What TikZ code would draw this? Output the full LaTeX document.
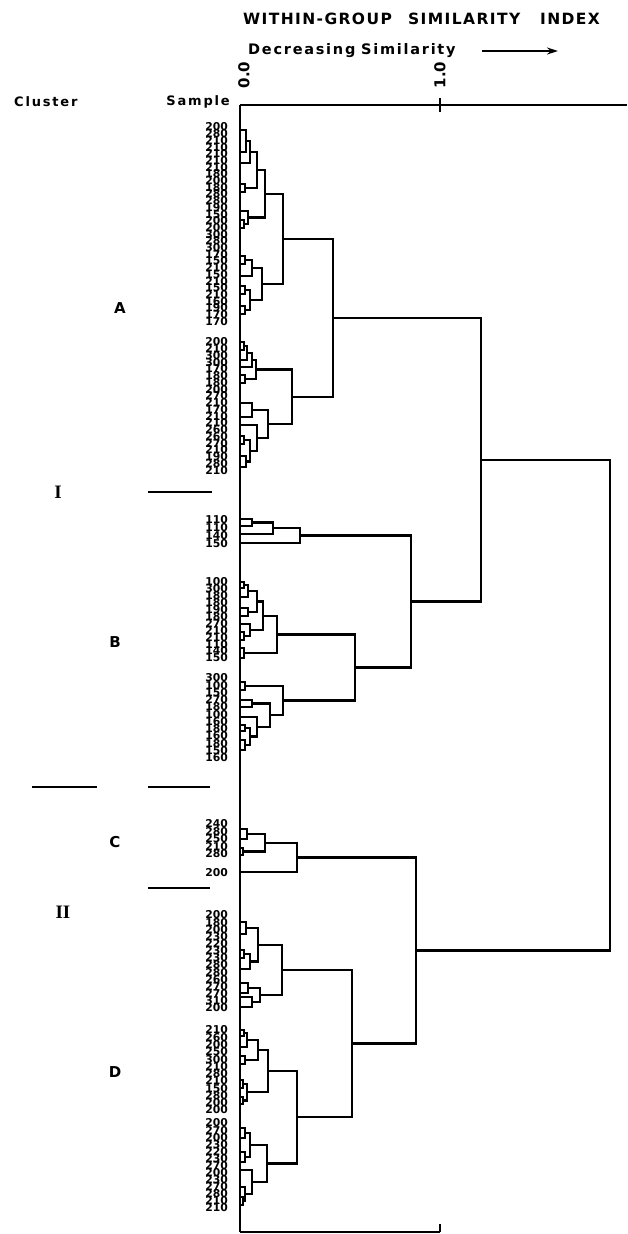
\documentclass[tikz,border=0pt]{standalone}
\usepackage{fontspec}
\setmainfont{DejaVu Sans}
\newfontfamily\serf{Liberation Serif}
\newfontfamily\hdf{DejaVu Sans}[LetterSpace=9]
\newfontfamily\decf{DejaVu Sans}[LetterSpace=12]
\newfontfamily\clf{DejaVu Sans}[LetterSpace=14]
\usetikzlibrary{arrows.meta}
\newcommand\br[5]{\draw[dl] (#4,#2) -- (#1,#2) -- (#1,#3) -- (#5,#3);}
\newcommand\lbls[3]{\foreach \t [count=\i] in {#3} \node[lab] at (228,{#1+(\i-1)*#2}) {\t};}
\begin{document}
\begin{tikzpicture}[x=1pt,y=-1pt]
\tikzset{
 dl/.style={line width=2.3pt, line join=miter},
 ax/.style={line width=2.4pt},
 lab/.style={anchor=east, inner sep=0pt, font=\bfseries\fontsize{10.8}{10.8}\selectfont},
 hd/.style={inner sep=0pt, font=\hdf\bfseries\fontsize{15.5}{15.5}\selectfont},
 dc/.style={inner sep=0pt, font=\decf\bfseries\fontsize{14.5}{14.5}\selectfont},
 nm/.style={inner sep=0pt, font=\bfseries\fontsize{15}{15}\selectfont},
 cl/.style={inner sep=0pt, font=\clf\bfseries\fontsize{13}{13}\selectfont},
 lt/.style={inner sep=0pt, font=\bfseries\fontsize{15}{15}\selectfont},
 rn/.style={inner sep=0pt, font=\serf\bfseries\fontsize{19}{19}\selectfont},
 sep/.style={line width=1.8pt}
}
\useasboundingbox (0,0) rectangle (627,1234);
% header
\node[hd, anchor=west] (t1) at (243,19) {WITHIN-GROUP};
\node[hd, anchor=west] (t2) at (408,19) {SIMILARITY};
\node[hd, anchor=west] (t3) at (540,19) {INDEX};
\node[dc, anchor=west] (dec) at (248,51) {Decreasing\hspace{0.4em}Similarity};
\coordinate (aS) at (482,51);
\coordinate (aE) at (558,51);
\draw[line width=1.5pt, -{Stealth[length=11pt,width=7pt]}] (aS) -- (aE);
\node[nm, rotate=90] (z0) at (244,75) {0.0};
\node[nm, rotate=90] (z1) at (440,75) {1.0};
\node[cl, anchor=west] (cluster) at (14,102) {Cluster};
\node[cl, anchor=east] (sample) at (230,102) {Sample};
% axes
\draw[ax] (240,105) -- (627,105);
\draw[ax] (440,98) -- (440,112);
\draw[ax] (240,105) -- (240,1232);
\draw[ax] (240,1232) -- (440,1232);
\draw[ax] (440,1224) -- (440,1232);
% cluster labels and separators
\node[lt] (A) at (120,308) {A};
\node[lt] (B) at (115,642) {B};
\node[lt] (C) at (115,842) {C};
\node[lt] (D) at (115,1072) {D};
\node[rn] (I) at (58,492) {I};
\node[rn] (II) at (63,912) {II};
\draw[sep] (148,492) -- (212,492);
\draw[sep] (32,787) -- (97,787);
\draw[sep] (148,787) -- (210,787);
\draw[sep] (148,888) -- (210,888);
% sample labels
\lbls{127}{6.7}{200,280,210,210,210,210,210,180,200,180,280,280,190,150,200,200,300,280,300,170,150,210,150,210,150,210,160,190,170,170}
\lbls{342}{6.75}{200,210,300,300,170,180,180,200,270,210,170,210,210,260,260,270,210,190,280,210}
\lbls{520}{8}{110,110,140,150}
\lbls{582}{6.9}{100,300,180,180,190,180,270,210,210,110,140,150}
\lbls{678}{7.25}{300,100,150,270,180,100,160,180,160,180,150,160}
\lbls{824}{7.5}{240,280,250,210,280}
\node[lab] (c200) at (228,873) {200};
\lbls{915}{7.15}{200,180,200,230,220,230,230,280,280,260,270,270,310,200}
\lbls{1030}{7.27}{210,260,200,250,300,210,280,210,150,280,200,200}
\lbls{1123}{7.08}{200,270,200,230,220,230,270,200,230,270,280,210,210}
% A1
\br{246}{130}{152}{240}{240}
\br{250}{141}{163}{246}{240}
\br{245}{184}{192}{240}{240}
\br{257}{152}{188}{250}{245}
\br{244}{220}{228}{240}{240}
\br{248}{211}{224}{240}{244}
\br{265}{170}{217.5}{257}{248}
\br{245}{256}{264}{240}{240}
\br{252}{260}{276}{245}{240}
\br{245}{286}{294}{240}{240}
\br{245}{306}{314}{240}{240}
\br{250}{290}{310}{245}{245}
\br{262}{268}{300}{252}{250}
\br{283}{194}{284}{265}{262}
% A2
\br{244}{342}{350}{240}{240}
\br{247}{346}{360}{244}{240}
\br{252}{353}{367}{247}{240}
\br{245}{375}{383}{240}{240}
\br{256}{360}{379}{252}{245}
\br{252}{403}{417}{240}{240}
\br{244}{436}{444}{240}{240}
\br{246}{456}{467}{240}{240}
\br{250}{440}{461.5}{244}{246}
\br{257}{425}{450.75}{240}{250}
\br{268}{410}{437.9}{252}{257}
\br{292}{369.5}{424}{256}{268}
\br{333}{239}{396.75}{283}{292}
% 110-150
\br{252}{519}{526}{240}{240}
\br{273}{522.5}{534}{252}{240}
\br{300}{528.25}{543}{273}{240}
% B1
\br{244}{582}{588}{240}{240}
\br{248}{585}{597}{244}{240}
\br{248}{608}{616}{240}{240}
\br{257}{591}{612}{248}{248}
\br{244}{632}{640}{240}{240}
\br{250}{624}{636}{240}{244}
\br{263}{601.5}{630}{257}{250}
\br{244}{648}{658}{240}{240}
\br{277}{615.75}{653}{263}{244}
% B2
\br{245}{682}{690}{240}{240}
\br{252}{700}{707}{240}{240}
\br{245}{725}{731}{240}{240}
\br{245}{740}{750}{240}{240}
\br{250}{728}{745}{245}{245}
\br{257}{717}{736.5}{240}{250}
\br{270}{703.5}{726.75}{252}{257}
\br{283}{686}{715.1}{245}{270}
\br{355}{634.4}{700.6}{277}{283}
% upper joins
\br{411}{535.6}{667.5}{300}{355}
\br{481}{317.9}{601.6}{333}{411}
% C
\br{247}{829}{839}{240}{240}
\br{243}{848}{855}{240}{240}
\br{265}{834}{851.5}{247}{243}
\br{297}{842.75}{872}{265}{240}
% D1
\br{246}{922}{934}{240}{240}
\br{244}{950}{958}{240}{240}
\br{250}{954}{969}{244}{240}
\br{258}{928}{961.5}{246}{250}
\br{248}{983}{993}{240}{240}
\br{252}{997}{1007}{240}{240}
\br{260}{988}{1002}{248}{252}
\br{282}{944.75}{995}{258}{260}
% D2
\br{244}{1030}{1036}{240}{240}
\br{247}{1033}{1047}{244}{240}
\br{245}{1056}{1064}{240}{240}
\br{258}{1040}{1060}{247}{245}
\br{243}{1080}{1088}{240}{240}
\br{243}{1097}{1104}{240}{240}
\br{247}{1084}{1100.5}{243}{243}
\br{268}{1050}{1092.25}{258}{247}
% D3
\br{245}{1128}{1138}{240}{240}
\br{245}{1152}{1162}{240}{240}
\br{250}{1133}{1157}{245}{245}
\br{243}{1197}{1205}{240}{240}
\br{245}{1187}{1201}{240}{243}
\br{252}{1170}{1194}{240}{245}
\br{267}{1145}{1182}{250}{252}
\br{297}{1071.1}{1163.5}{268}{267}
\br{352}{969.9}{1117.3}{282}{297}
\br{416}{857.4}{1043.6}{297}{352}
% root
\br{610}{459.75}{950.5}{481}{416}
\end{tikzpicture}
\end{document}
